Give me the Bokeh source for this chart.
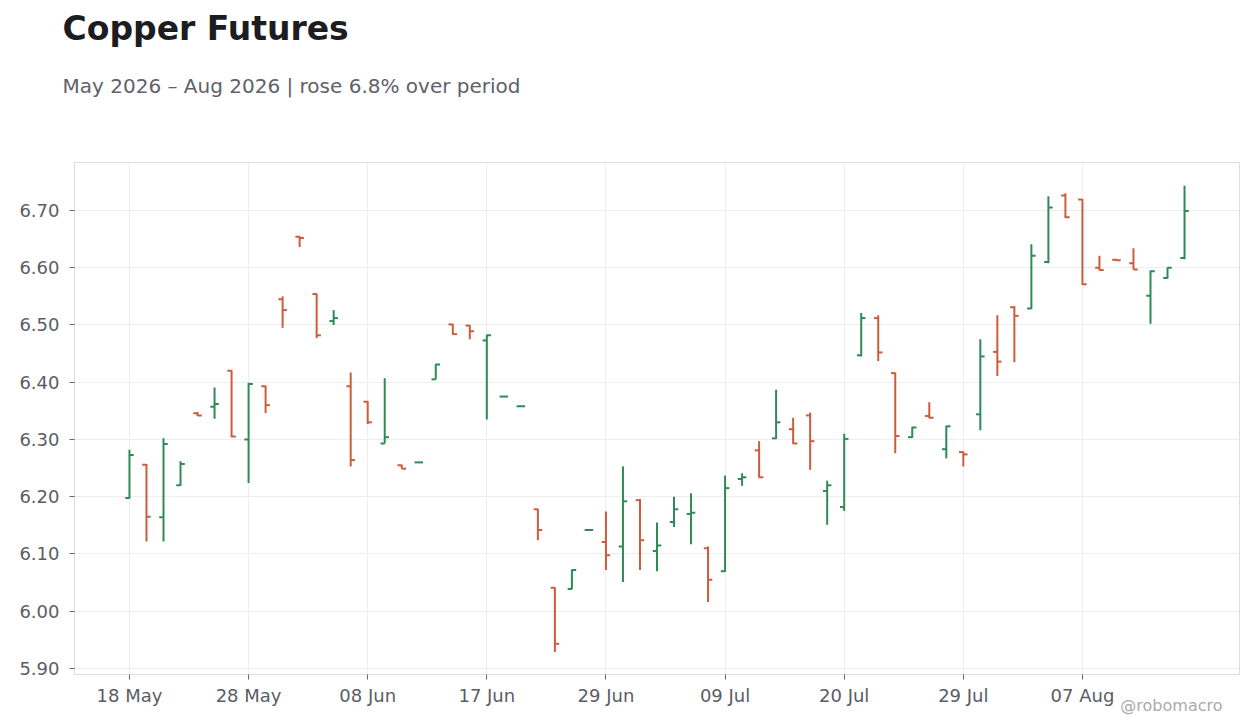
from bokeh.plotting import figure
from bokeh.models import Range1d, FixedTicker, Title, ColumnDataSource, PrintfTickFormatter
from bokeh.transform import dodge
from bokeh.embed import file_html
from bokeh.resources import INLINE
import pandas as pd

# trading days shown (US holidays 25 May, 19 Jun, 03 Jul are skipped)
dates = [
    "2026-05-18", "2026-05-19", "2026-05-20", "2026-05-21", "2026-05-22",
    "2026-05-26", "2026-05-27", "2026-05-28", "2026-05-29",
    "2026-06-01", "2026-06-02", "2026-06-03", "2026-06-04", "2026-06-05",
    "2026-06-08", "2026-06-09", "2026-06-10", "2026-06-11", "2026-06-12",
    "2026-06-15", "2026-06-16", "2026-06-17", "2026-06-18",
    "2026-06-22", "2026-06-23", "2026-06-24", "2026-06-25", "2026-06-26",
    "2026-06-29", "2026-06-30", "2026-07-01", "2026-07-02",
    "2026-07-06", "2026-07-07", "2026-07-08", "2026-07-09", "2026-07-10",
    "2026-07-13", "2026-07-14", "2026-07-15", "2026-07-16", "2026-07-17",
    "2026-07-20", "2026-07-21", "2026-07-22", "2026-07-23", "2026-07-24",
    "2026-07-27", "2026-07-28", "2026-07-29", "2026-07-30", "2026-07-31",
    "2026-08-03", "2026-08-04", "2026-08-05", "2026-08-06", "2026-08-07",
    "2026-08-10", "2026-08-11", "2026-08-12", "2026-08-13", "2026-08-14",
    "2026-08-17",
]

opens = [6.198, 6.256, 6.164, 6.220, 6.346, 6.357, 6.420, 6.300, 6.393, 6.545,
         6.654, 6.554, 6.507, 6.393, 6.366, 6.293, 6.255, 6.260, 6.405, 6.501,
         6.499, 6.473, 6.375, 6.358, 6.178, 6.041, 6.039, 6.142, 6.121, 6.113,
         6.194, 6.105, 6.156, 6.170, 6.110, 6.070, 6.231, 6.281, 6.302, 6.318,
         6.342, 6.210, 6.182, 6.447, 6.512, 6.416, 6.304, 6.341, 6.283, 6.278,
         6.344, 6.453, 6.531, 6.529, 6.610, 6.726, 6.719, 6.600, 6.614, 6.608,
         6.551, 6.582, 6.617]
highs = [6.282, 6.257, 6.302, 6.262, 6.348, 6.391, 6.421, 6.399, 6.394, 6.550,
         6.655, 6.555, 6.526, 6.417, 6.367, 6.407, 6.256, 6.261, 6.432, 6.502,
         6.500, 6.483, 6.376, 6.359, 6.179, 6.042, 6.073, 6.143, 6.174, 6.253,
         6.196, 6.155, 6.200, 6.206, 6.113, 6.237, 6.241, 6.297, 6.387, 6.338,
         6.347, 6.228, 6.310, 6.521, 6.517, 6.417, 6.322, 6.365, 6.324, 6.279,
         6.475, 6.517, 6.533, 6.641, 6.725, 6.730, 6.720, 6.621, 6.615, 6.634,
         6.595, 6.601, 6.743]
lows = [6.197, 6.122, 6.122, 6.219, 6.341, 6.336, 6.304, 6.224, 6.346, 6.495,
        6.636, 6.477, 6.500, 6.253, 6.327, 6.293, 6.249, 6.259, 6.405, 6.483,
        6.475, 6.335, 6.374, 6.357, 6.124, 5.929, 6.039, 6.141, 6.072, 6.051,
        6.072, 6.070, 6.147, 6.117, 6.016, 6.069, 6.219, 6.233, 6.301, 6.292,
        6.247, 6.151, 6.175, 6.445, 6.437, 6.276, 6.303, 6.337, 6.267, 6.253,
        6.316, 6.411, 6.435, 6.528, 6.608, 6.687, 6.570, 6.595, 6.612, 6.597,
        6.502, 6.581, 6.615]
closes = [6.273, 6.165, 6.292, 6.257, 6.342, 6.362, 6.305, 6.397, 6.360, 6.526,
          6.652, 6.482, 6.512, 6.264, 6.330, 6.304, 6.249, 6.260, 6.431, 6.484,
          6.489, 6.482, 6.375, 6.358, 6.142, 5.943, 6.072, 6.142, 6.098, 6.192,
          6.124, 6.115, 6.178, 6.172, 6.055, 6.215, 6.234, 6.234, 6.330, 6.293,
          6.297, 6.220, 6.301, 6.512, 6.452, 6.306, 6.321, 6.338, 6.323, 6.274,
          6.445, 6.436, 6.516, 6.621, 6.705, 6.688, 6.571, 6.596, 6.613, 6.597,
          6.594, 6.600, 6.699]

price_ticks = [5.90, 6.00, 6.10, 6.20, 6.30, 6.40, 6.50, 6.60, 6.70]
date_tick_every = 7

GREEN = "#2e8b57"
RED = "#cd5c3c"
FONT = "DejaVu Sans"

idx = list(range(len(dates)))
colors = [GREEN if c >= o else RED for o, c in zip(opens, closes)]
src = ColumnDataSource(dict(x=idx, o=opens, h=highs, l=lows, c=closes, color=colors))

p = figure(width=1260, height=728, output_backend="svg", toolbar_location=None, title=None,
           x_range=Range1d(-3.23, 65.23), y_range=Range1d(5.8895, 6.7838),
           min_border_left=74, min_border_right=21, min_border_top=162, min_border_bottom=54)
p.background_fill_color = "white"
p.border_fill_color = "white"
p.outline_line_color = "#dddddd"

# high-low line, open tick on the left, close tick on the right
p.segment(x0="x", y0="l", x1="x", y1="h", line_color="color", line_width=2, source=src)
p.segment(x0=dodge("x", -0.25), y0="o", x1="x", y1="o", line_color="color", line_width=2, source=src)
p.segment(x0="x", y0="c", x1=dodge("x", 0.25), y1="c", line_color="color", line_width=2, source=src)

xticks = idx[::date_tick_every]
p.xaxis.ticker = FixedTicker(ticks=xticks)
p.xaxis.major_label_overrides = {i: pd.Timestamp(dates[i]).strftime("%d %b") for i in xticks}
p.yaxis.ticker = FixedTicker(ticks=price_ticks)
p.yaxis.formatter = PrintfTickFormatter(format="%.2f")

for ax in (p.xaxis, p.yaxis):
    ax.axis_line_color = "#dddddd"
    ax.major_tick_line_color = "#666666"
    ax.major_tick_in = 0
    ax.major_tick_out = 5
    ax.minor_tick_line_color = None
    ax.major_label_text_font = FONT
    ax.major_label_text_font_size = "18px"
    ax.major_label_text_color = "#5a5d66"
p.yaxis.major_label_standoff = 10
p.xaxis.major_label_standoff = 5

p.grid.grid_line_color = "#eeeeee"
p.grid.grid_line_width = 1

# watermark under the right end of the x axis
p.add_layout(Title(text="@robomacro", align="right", offset=17, standoff=-25,
                   vertical_align="top", text_font=FONT, text_font_size="16px",
                   text_font_style="normal", text_color="#aaaaaa"), "below")

# titles stacked above the frame (first added sits closest to the plot)
p.add_layout(Title(text=" ", text_font_size="56px", standoff=0), "above")
p.add_layout(Title(text="May 2026 \u2013 Aug 2026 | rose 6.8% over period", offset=-12, standoff=0,
                   text_font=FONT, text_font_size="20px", text_font_style="normal",
                   text_color="#606169"), "above")
p.add_layout(Title(text=" ", text_font_size="19.5px", standoff=0), "above")
p.add_layout(Title(text="Copper Futures", offset=-12, standoff=0,
                   text_font=FONT, text_font_size="33px", text_font_style="bold",
                   text_color="#1c1c21"), "above")

open("out.html", "w").write(file_html(p, INLINE))
